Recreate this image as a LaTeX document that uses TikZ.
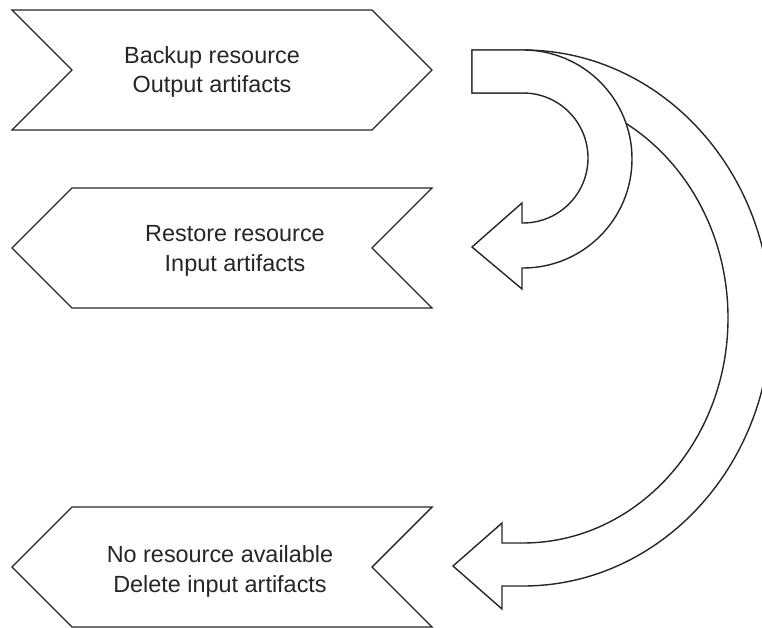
\documentclass[tikz,border=0pt]{standalone}
\usepackage{fontspec}
\setmainfont{Liberation Sans}
\begin{document}
\begin{tikzpicture}[x=1bp,y=-1bp,line join=miter]
\tikzset{
  outline/.style={draw=black!85, line width=1.4bp, fill=white},
  caption/.style={align=center, font=\fontsize{23.5}{30}\selectfont, text=black!85, inner sep=0pt}
}
\useasboundingbox (0,0) rectangle (762,628);
\clip (0,0) rectangle (762,628);

% step banners
\draw[outline] (12,10) -- (372,10) -- (432,70) -- (372,130) -- (12,130) -- (72,70) -- cycle;
\node[caption] (backup) at (212,72) {Backup resource\\Output artifacts};

\draw[outline] (72,188) -- (432,188) -- (372,248) -- (432,308) -- (72,308) -- (12,248) -- cycle;
\node[caption] (restore) at (235,251) {Restore resource\\Input artifacts};

\draw[outline] (72,507) -- (432,507) -- (372,567) -- (432,627) -- (72,627) -- (12,567) -- cycle;
\node[caption] (none) at (220,571) {No resource available\\Delete input artifacts};

% long curved block arrow (drawn first, behind)
\draw[outline] (472,50) -- (523,50)
  arc[start angle=90, end angle=-90, x radius=248bp, y radius=268bp]
  -- (502,586) -- (502,609) -- (453,566) -- (502,523) -- (502,543) -- (523,543)
  arc[start angle=-90, end angle=90, x radius=205bp, y radius=225bp]
  -- (472,93) -- cycle;

% short curved block arrow (on top)
\draw[outline] (472,50) -- (523,50)
  arc[start angle=90, end angle=-90, radius=109bp]
  -- (522,268) -- (522,289) -- (472,247) -- (522,203) -- (522,223) -- (523,223)
  arc[start angle=-90, end angle=90, radius=65bp]
  -- (472,93) -- cycle;
\end{tikzpicture}
\end{document}
